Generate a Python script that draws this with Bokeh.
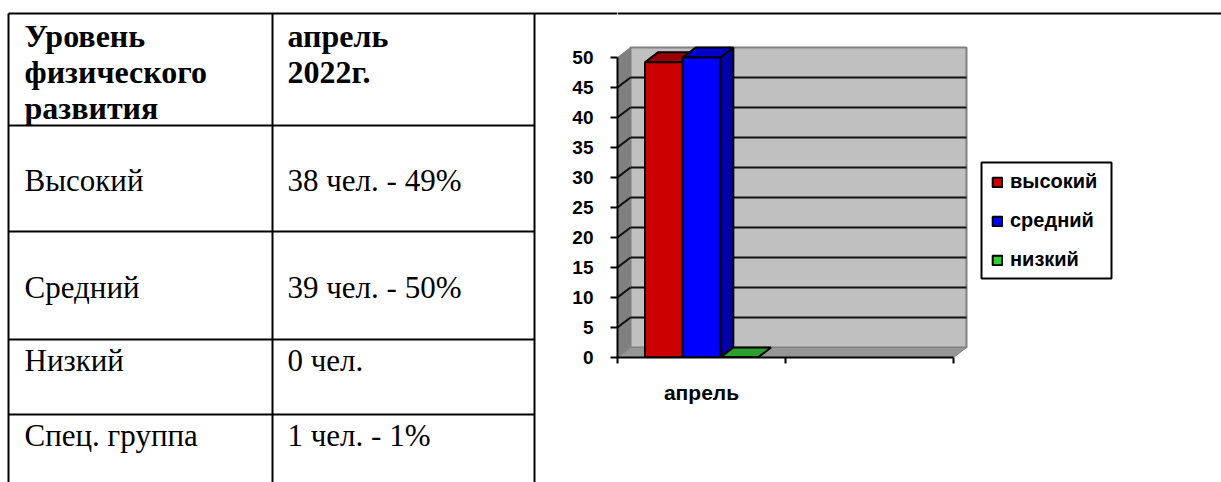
from bokeh.plotting import figure
from bokeh.layouts import row
from bokeh.models import (Range1d, LinearAxis, FixedTicker, Legend, LegendItem)
from bokeh.core.properties import value
from bokeh.embed import file_html
from bokeh.resources import INLINE

# chart data
series = ["высокий", "средний", "низкий"]
values = [49.2, 50, 0]
front = ["#cc0000", "#0000ff", "#33cc33"]
top = ["#990000", "#0000cc", "#2ca02c"]
side = ["#8b0000", "#0000a8", "#1f7a1f"]
month = "апрель"
y_ticks = [0, 5, 10, 15, 20, 25, 30, 35, 40, 45, 50]

# table text
header = [("Уровень", 24, 35), ("физического", 24, 71), ("развития", 24, 107),
          ("апрель", 287, 35), ("2022г.", 287, 71)]
body = [("Высокий", 24, 180), ("38 чел. - 49%", 287, 180),
        ("Средний", 24, 287), ("39 чел. - 50%", 287, 287),
        ("Низкий", 24, 360), ("0 чел.", 287, 360),
        ("Спец. группа", 24, 435), ("1 чел. - 1%", 287, 435)]
h_rules = [13, 125, 231, 339, 414]
v_rules = [8, 272, 534]

W, H = 1221, 482
W_TABLE = 560      # where the chart figure starts
F_BOTTOM, F_LEFT = 357, 617
T_WIDTH = F_LEFT   # table figure runs under the chart figure's left margin

# ---------- table ----------
t = figure(width=T_WIDTH, height=H, x_range=Range1d(0, T_WIDTH), y_range=Range1d(H, 0),
           x_axis_location=None, y_axis_location=None, toolbar_location=None,
           output_backend="svg", min_border=0, outline_line_color=None,
           margin=(0, W_TABLE - T_WIDTH, 0, 0))
t.frame_align = False
t.grid.visible = False
t.multi_line([[8, 534] for _ in h_rules], [[y, y] for y in h_rules], line_color="black", line_width=2)
t.line([534, T_WIDTH], [13, 13], line_color="black", line_width=2)
t.multi_line([[x, x] for x in v_rules], [[13, H] for _ in v_rules], line_color="black", line_width=2)
t.text([r[1] for r in header], [r[2] for r in header], text=[r[0] for r in header],
       text_font=value("Liberation Serif"), text_font_style="bold", text_font_size="32px",
       text_color="black", text_baseline="alphabetic")
t.text([r[1] for r in body], [r[2] for r in body], text=[r[0] for r in body],
       text_font=value("Liberation Serif"), text_font_size="31px",
       text_color="black", text_baseline="alphabetic")

# ---------- chart ----------
PX_X = 168.0   # px per category
PX_Y = 6.0     # px per value unit
W_CHART = W - W_TABLE
DX = 13 / PX_X
DY = 10 / PX_Y
X_MAX = (W - F_LEFT) / PX_X
Y_MAX = F_BOTTOM / PX_Y

p = figure(width=W_CHART, height=H, x_range=Range1d(0, X_MAX), y_range=Range1d(0, Y_MAX),
           x_axis_location=None, y_axis_location=None, toolbar_location=None,
           output_backend="svg", outline_line_color=None,
           border_fill_color=None, background_fill_color=None,
           min_border_left=F_LEFT - W_TABLE, min_border_right=0, min_border_top=0,
           min_border_bottom=H - F_BOTTOM)
p.frame_align = False
p.grid.visible = False

# page-wide rule above the chart
p.line([0, X_MAX], [(F_BOTTOM - 13) / PX_Y] * 2, line_color="black", line_width=2)

N_CAT = 2
YMAX = max(y_ticks)
# walls
p.patch([DX, N_CAT + DX, N_CAT + DX, DX], [DY, DY, YMAX + DY, YMAX + DY],
        fill_color="#c0c0c0", line_color="#808080", line_width=2)
p.patch([0, DX, DX, 0], [0, DY, YMAX + DY, YMAX], fill_color="#808080", line_color="#808080", line_width=1)
p.patch([0, N_CAT, N_CAT + DX, DX], [0, 0, DY, DY], fill_color="#969696", line_color="#808080", line_width=1)
# gridlines
grid_vals = [v for v in y_ticks if 0 < v < YMAX]
p.multi_line([[DX, N_CAT + DX] for _ in grid_vals], [[v + DY, v + DY] for v in grid_vals],
             line_color="#111111", line_width=2)
p.multi_line([[0, DX] for _ in grid_vals], [[v, v + DY] for v in grid_vals],
             line_color="#111111", line_width=2)

# bars
GAP = 27.5 / PX_X
BW = (1 - 2 * GAP) / len(series)
items = []
for i, (name, v) in enumerate(zip(series, values)):
    x0 = GAP + i * BW
    x1 = x0 + BW
    if v > 0:
        p.patch([x1, x1 + DX, x1 + DX, x1], [0, DY, v + DY, v], fill_color=side[i], line_color="black", line_width=2)
    p.patch([x0, x1, x1 + DX, x0 + DX], [v, v, v + DY, v + DY], fill_color=top[i], line_color="black", line_width=2)
    r = p.vbar(x=[(x0 + x1) / 2], top=[v], bottom=0, width=BW, fill_color=front[i], line_color="black", line_width=2)
    items.append(LegendItem(label=name, renderers=[r]))

# legend frame (tighter vertically than the legend's own padding allows)
BOX = (981, 1111, 162, 278)
p.quad(left=(BOX[0] - F_LEFT) / PX_X, right=(BOX[1] - F_LEFT) / PX_X,
       top=(F_BOTTOM - BOX[2]) / PX_Y, bottom=(F_BOTTOM - BOX[3]) / PX_Y,
       fill_color="white", line_color="black", line_width=2)
legend = Legend(items=items, location=(374, 86), orientation="vertical",
                label_text_font="Liberation Sans", label_text_font_style="bold",
                label_text_font_size="20px", label_text_color="black",
                glyph_width=12, glyph_height=12, label_height=16, spacing=16, padding=12, margin=0,
                label_standoff=7, border_line_color=None, background_fill_alpha=0)
p.add_layout(legend, "center")

# axes
y_ax = LinearAxis(ticker=FixedTicker(ticks=y_ticks), bounds=(0, YMAX))
y_ax.axis_line_color = "black"
y_ax.axis_line_width = 2
y_ax.major_tick_line_color = "black"
y_ax.major_tick_line_width = 2
y_ax.major_tick_out = 7
y_ax.major_tick_in = 0
y_ax.minor_tick_line_color = None
y_ax.major_label_text_color = "black"
y_ax.major_label_text_font = "Liberation Sans"
y_ax.major_label_text_font_style = "bold"
y_ax.major_label_text_font_size = "19px"
y_ax.major_label_standoff = 17
p.add_layout(y_ax, "left")

x_ticks = list(range(N_CAT + 1))
x_ax = LinearAxis(ticker=FixedTicker(ticks=x_ticks), bounds=(0, N_CAT))
x_ax.axis_line_color = "black"
x_ax.axis_line_width = 2
x_ax.major_tick_line_color = "black"
x_ax.major_tick_line_width = 2
x_ax.major_tick_out = 6
x_ax.major_tick_in = 0
x_ax.minor_tick_line_color = None
x_ax.major_label_overrides = {k: "" for k in x_ticks}
p.add_layout(x_ax, "below")

x_lab = LinearAxis(ticker=FixedTicker(ticks=[0.5]))
x_lab.axis_line_color = None
x_lab.major_tick_line_color = None
x_lab.minor_tick_line_color = None
x_lab.major_label_overrides = {0.5: month}
x_lab.major_label_text_color = "black"
x_lab.major_label_text_font = "Liberation Sans"
x_lab.major_label_text_font_style = "bold"
x_lab.major_label_text_font_size = "21px"
x_lab.major_label_standoff = 11
p.add_layout(x_lab, "below")

page = row(t, p, spacing=0)
open("out.html", "w").write(file_html(page, INLINE))
